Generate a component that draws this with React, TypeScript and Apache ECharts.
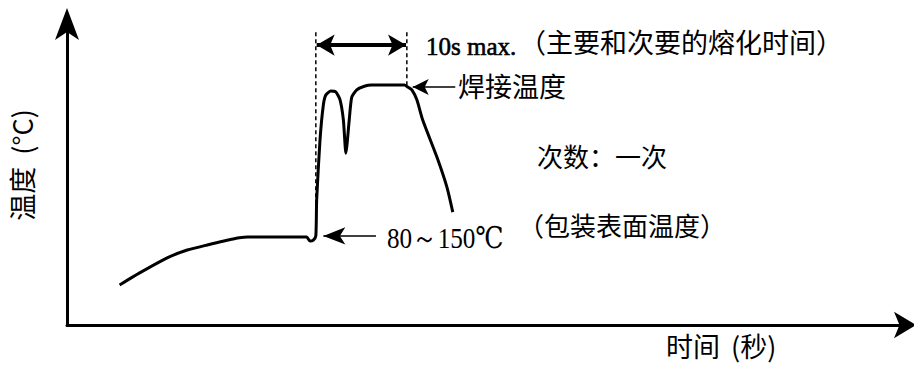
import React, { useEffect, useRef } from "react";
import * as echarts from "echarts";

// Reflow soldering profile (schematic units: time 0-100, temperature 0-100)
const profileTime = [6.3, 8.7, 12.0, 14.4, 16.8, 19.9, 21.6, 28.7, 29.1, 29.5, 29.8, 29.9, 30.3, 30.7, 31.0, 31.6, 32.2, 32.7, 33.1, 33.4, 33.8, 34.1, 34.7, 35.7, 36.5, 40.4, 40.8, 41.3, 41.9, 42.6, 44.3, 45.5, 46.2];
const profileTemp = [13.3, 17.3, 22.3, 24.9, 26.6, 28.6, 29.2, 29.2, 27.9, 28.2, 29.6, 41.5, 61.5, 73.1, 76.4, 77.7, 77.4, 74.8, 68.1, 57.1, 68.1, 75.7, 78.1, 79.4, 79.7, 79.7, 79.1, 78.1, 74.8, 68.1, 55.8, 45.8, 37.5];

// Dashed guide lines bounding the 10 s window
const guideLeftTime = [29.8, 29.8];
const guideLeftTemp = [97.3, 30.9];
const guideRightTime = [40.7, 40.7];
const guideRightTemp = [97.3, 79.7];

// Double arrow (10 s max.)
const spanArrowTime = [29.9, 40.6];
const spanArrowTemp = [93.0, 93.0];

// Pointer arrows: [fromTime, toTime, temp]
const peakPointer = [46.5, 41.4, 79.1];
const preheatPointer = [37.0, 30.7, 29.6];

const labelSpan = "10s max.";
const labelSpanNote = "（主要和次要的熔化时间）";
const labelPeak = "焊接温度";
const labelCount = "次数：一次";
const labelSurface = "（包装表面温度）";
const labelPreheat = "80～150℃";
const axisNameX = "时间";
const axisUnitX = "(秒)";
const axisNameY = "温度  (°C)";

const CJK = '"Noto Sans CJK SC", "Noto Sans", sans-serif';
const SERIF = '"Liberation Serif", "DejaVu Serif", serif';

export default function App() {
  const ref = useRef<HTMLDivElement>(null);
  useEffect(() => {
    if (!ref.current) return;
    const chart = echarts.init(ref.current, undefined, { renderer: "svg" });
    const zip = (a: number[], b: number[]) => a.map((v, i) => [v, b[i]]);
    const dashStyle = { color: "#000", width: 1.5, type: [4, 3] as any };
    chart.setOption({
      animation: false,
      backgroundColor: "#fff",
      grid: { left: 67, right: 12, top: 24, bottom: 40 },
      xAxis: {
        type: "value",
        min: 0,
        max: 100,
        axisLine: {
          show: true,
          lineStyle: { color: "#000", width: 3 },
          symbol: ["none", "arrow"],
          symbolSize: [20, 22],
          symbolOffset: [0, 14],
        },
        axisTick: { show: false },
        axisLabel: { show: false },
        splitLine: { show: false },
      },
      yAxis: {
        type: "value",
        min: 0,
        max: 100,
        axisLine: {
          show: true,
          lineStyle: { color: "#000", width: 3 },
          symbol: ["none", "arrow"],
          symbolSize: [18, 32],
          symbolOffset: [0, 16],
        },
        axisTick: { show: false },
        axisLabel: { show: false },
        splitLine: { show: false },
      },
      series: [
        {
          type: "line",
          name: "profile",
          data: zip(profileTime, profileTemp),
          symbol: "none",
          smooth: 0.2,
          lineStyle: { color: "#000", width: 3 },
          silent: true,
        },
        {
          type: "line",
          name: "guideLeft",
          data: zip(guideLeftTime, guideLeftTemp),
          symbol: "none",
          lineStyle: dashStyle,
          silent: true,
        },
        {
          type: "line",
          name: "guideRight",
          data: zip(guideRightTime, guideRightTemp),
          symbol: "none",
          lineStyle: dashStyle,
          silent: true,
          markLine: {
            silent: true,
            label: { show: false },
            emphasis: { disabled: true },
            data: [
              [
                { coord: [spanArrowTime[0], spanArrowTemp[0]], symbol: "arrow", symbolSize: [16, 18], lineStyle: { color: "#000", width: 4, type: "solid" } },
                { coord: [spanArrowTime[1], spanArrowTemp[1]], symbol: "arrow", symbolSize: [16, 18] },
              ],
              [
                { coord: [peakPointer[0], peakPointer[2]], symbol: "none", lineStyle: { color: "#000", width: 1.5, type: "solid" } },
                { coord: [peakPointer[1], peakPointer[2]], symbol: "arrow", symbolSize: [12, 16] },
              ],
              [
                { coord: [preheatPointer[0], preheatPointer[2]], symbol: "none", lineStyle: { color: "#000", width: 1.5, type: "solid" } },
                { coord: [preheatPointer[1], preheatPointer[2]], symbol: "arrow", symbolSize: [13, 22] },
              ],
            ],
          },
        },
      ],
      graphic: [
        { type: "text", x: 426, y: 46, style: { text: labelSpan, font: `25px ${SERIF}`, fill: "#000", verticalAlign: "middle", stroke: "#000", lineWidth: 0.6 } },
        { type: "text", x: 519, y: 41, style: { text: labelSpanNote, font: `27px ${CJK}`, fill: "#000", verticalAlign: "middle" } },
        { type: "text", x: 458, y: 85, style: { text: labelPeak, font: `27px ${CJK}`, fill: "#000", verticalAlign: "middle" } },
        { type: "text", x: 537, y: 155, style: { text: labelCount, font: `26px ${CJK}`, fill: "#000", verticalAlign: "middle" } },
        { type: "text", x: 518, y: 224, style: { text: labelSurface, font: `26px ${CJK}`, fill: "#000", verticalAlign: "middle" } },
        {
          type: "text",
          x: 387,
          y: 238,
          scaleX: 1.05,
          scaleY: 1.25,
          style: { text: labelPreheat, font: `24px ${SERIF}`, fill: "#000", verticalAlign: "middle" },
        },
        { type: "text", x: 666, y: 345, style: { text: axisNameX, font: `27px ${CJK}`, fill: "#000", verticalAlign: "middle" } },
        { type: "text", x: 731, y: 345, style: { text: axisUnitX, font: `27px ${CJK}`, fill: "#000", verticalAlign: "middle" } },
        {
          type: "text",
          x: 21,
          y: 165,
          rotation: Math.PI / 2,
          style: { text: axisNameY, font: `27px ${CJK}`, fill: "#000", align: "center", verticalAlign: "middle" },
        },
      ],
    });
    return () => chart.dispose();
  }, []);
  return (
    <div
      ref={ref}
      style={{ position: "fixed", left: 0, top: 0, width: 914, height: 365, overflow: "hidden" }}
    />
  );
}
